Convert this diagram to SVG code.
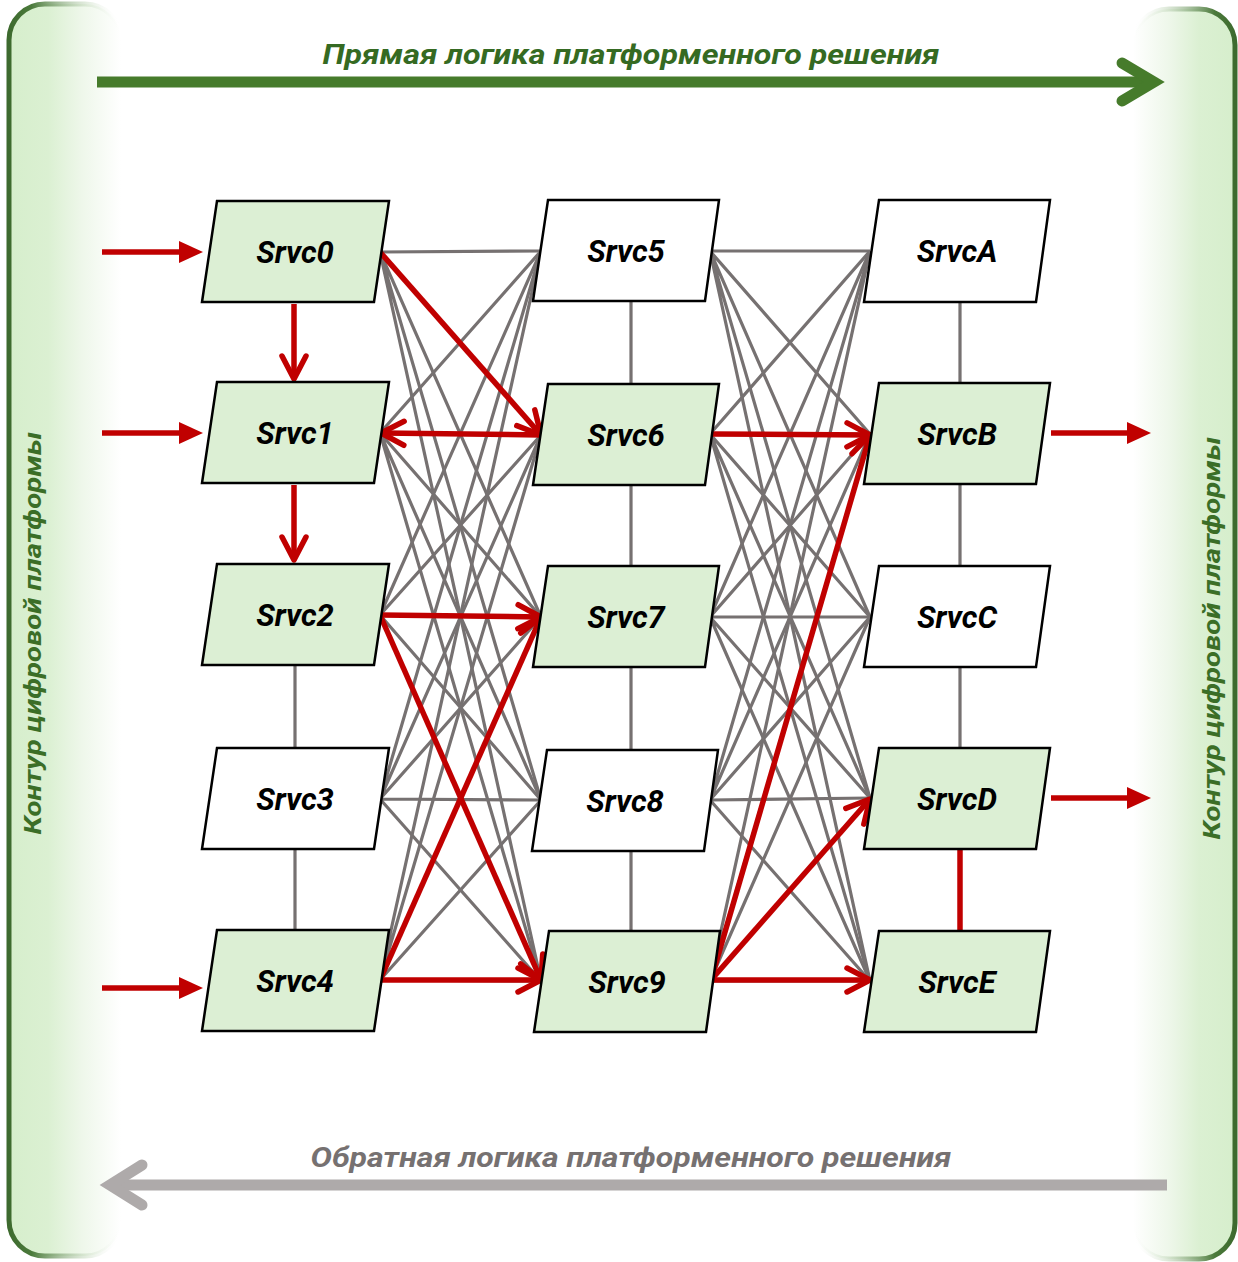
<svg xmlns="http://www.w3.org/2000/svg" width="1238" height="1262" viewBox="0 0 1238 1262">
<defs>
<style>
.lbl{font-family:Roboto,"Liberation Sans",sans-serif;font-weight:bold;font-style:italic;font-size:31px;text-anchor:middle;fill:#000}
.box{stroke:#000;stroke-width:2.5}
.gf{fill:#dcefd4}
.wf{fill:#fff}
.gray{stroke:#767171;stroke-width:3.2;fill:none}
.red{stroke:#c00000;stroke-width:5.5;fill:none}
.ttl{font-family:Roboto,"Liberation Sans",sans-serif;font-weight:bold;font-style:italic}
</style>
<linearGradient id="fillL" x1="0" y1="0" x2="1" y2="0">
<stop offset="0" stop-color="#d6eecc"/><stop offset="0.35" stop-color="#dbf0d2"/><stop offset="0.65" stop-color="#eef7ea"/><stop offset="1" stop-color="#ffffff"/>
</linearGradient>
<linearGradient id="fillR" x1="1" y1="0" x2="0" y2="0">
<stop offset="0" stop-color="#d6eecc"/><stop offset="0.35" stop-color="#dbf0d2"/><stop offset="0.65" stop-color="#eef7ea"/><stop offset="1" stop-color="#ffffff"/>
</linearGradient>
<linearGradient id="strokeL" x1="0" y1="0" x2="1" y2="0">
<stop offset="0" stop-color="#3d6a2e"/><stop offset="0.2" stop-color="#4b7a3b"/><stop offset="0.7" stop-color="#c9dcc2" stop-opacity="0.5"/><stop offset="1" stop-color="#ffffff" stop-opacity="0"/>
</linearGradient>
<linearGradient id="strokeR" x1="1" y1="0" x2="0" y2="0">
<stop offset="0" stop-color="#3d6a2e"/><stop offset="0.2" stop-color="#4b7a3b"/><stop offset="0.7" stop-color="#c9dcc2" stop-opacity="0.5"/><stop offset="1" stop-color="#ffffff" stop-opacity="0"/>
</linearGradient>
<marker id="chev" markerUnits="userSpaceOnUse" viewBox="-30 -20 40 40" markerWidth="40" markerHeight="40" refX="0" refY="0" orient="auto" overflow="visible">
<path d="M-23,-12 L0,0 L-23,12" stroke="#c00000" stroke-width="5.5" stroke-linecap="round" stroke-linejoin="round" fill="none"/>
</marker>
<marker id="tri" markerUnits="userSpaceOnUse" viewBox="-5 -15 35 30" markerWidth="35" markerHeight="30" refX="0" refY="0" orient="auto" overflow="visible">
<path d="M-1,-11 L23,0 L-1,11 Z" fill="#c00000"/>
</marker>
</defs>
<rect width="1238" height="1262" fill="#fff"/>

<g id="panel-left">
<rect x="9" y="4" width="112" height="1252" rx="36" fill="url(#fillL)" stroke="url(#strokeL)" stroke-width="5"/>
<text class="ttl" transform="translate(41,633) rotate(-90)" font-size="24" text-anchor="middle" fill="#3b6e27" textLength="403" lengthAdjust="spacingAndGlyphs">Контур цифровой платформы</text>
</g>
<g id="panel-right">
<rect x="1133" y="9" width="102" height="1250" rx="36" fill="url(#fillR)" stroke="url(#strokeR)" stroke-width="5"/>
<text class="ttl" transform="translate(1220,638) rotate(-90)" font-size="24" text-anchor="middle" fill="#3b6e27" textLength="403" lengthAdjust="spacingAndGlyphs">Контур цифровой платформы</text>
</g>

<g id="forward-logic">
<text class="ttl" x="631" y="64" font-size="28" text-anchor="middle" fill="#356a22" textLength="617" lengthAdjust="spacingAndGlyphs">Прямая логика платформенного решения</text>
<path d="M97 82 H1150" stroke="#467b2b" stroke-width="11" fill="none"/>
<path d="M1122 63 L1154 82 L1122 101" stroke="#467b2b" stroke-width="11" stroke-linecap="round" stroke-linejoin="miter" fill="none"/>
</g>
<g id="reverse-logic">
<text class="ttl" x="631" y="1167" font-size="28" text-anchor="middle" fill="#767171" textLength="641" lengthAdjust="spacingAndGlyphs">Обратная логика платформенного решения</text>
<path d="M1167 1185 H114" stroke="#aeaaaa" stroke-width="11" fill="none"/>
<path d="M142 1165 L110 1185 L142 1205" stroke="#aeaaaa" stroke-width="11" stroke-linecap="round" stroke-linejoin="miter" fill="none"/>
</g>

<g id="connectors">
<g class="gray">
<path d="M380 252L541 251M380 252L541 435M380 252L541 617M380 252L541 800M380 252L541 981"/>
<path d="M380 433L541 251M380 433L541 435M380 433L541 617M380 433L541 800M380 433L541 981"/>
<path d="M380 615L541 251M380 615L541 435M380 615L541 617M380 615L541 800M380 615L541 981"/>
<path d="M380 799L541 251M380 799L541 435M380 799L541 617M380 799L541 800M380 799L541 981"/>
<path d="M380 980L541 251M380 980L541 435M380 980L541 617M380 980L541 800M380 980L541 981"/>
<path d="M710 251L870 251M710 251L870 434M710 251L870 617M710 251L870 798M710 251L870 981"/>
<path d="M710 434L870 251M710 434L870 434M710 434L870 617M710 434L870 798M710 434L870 981"/>
<path d="M710 617L870 251M710 617L870 434M710 617L870 617M710 617L870 798M710 617L870 981"/>
<path d="M710 800L870 251M710 800L870 434M710 800L870 617M710 800L870 798M710 800L870 981"/>
<path d="M710 981L870 251M710 981L870 434M710 981L870 617M710 981L870 798M710 981L870 981"/>
<path d="M295 665V748M295 850V930"/>
<path d="M631 301V384M631 486V566M631 668V749M631 852V931"/>
<path d="M960 302V383M960 485V566M960 668V748"/>
</g>
<g class="red">
<path d="M102 252H180" marker-end="url(#tri)"/>
<path d="M102 433H180" marker-end="url(#tri)"/>
<path d="M102 988H180" marker-end="url(#tri)"/>
<path d="M1051 433H1128" marker-end="url(#tri)"/>
<path d="M1051 798H1128" marker-end="url(#tri)"/>
<path d="M294 304V379" marker-end="url(#chev)"/>
<path d="M294 485V560" marker-end="url(#chev)"/>
<path d="M380 252L541 435" marker-end="url(#chev)"/>
<path d="M541 435L381 433" marker-end="url(#chev)"/>
<path d="M380 615L541 617" marker-end="url(#chev)"/>
<path d="M380 615L541 980" marker-end="url(#chev)"/>
<path d="M380 980L541 617" marker-end="url(#chev)"/>
<path d="M380 980L541 980" marker-end="url(#chev)"/>
<path d="M710 434L870 435" marker-end="url(#chev)"/>
<path d="M711 980L870 435" marker-end="url(#chev)"/>
<path d="M711 980L870 799" marker-end="url(#chev)"/>
<path d="M711 980L870 980" marker-end="url(#chev)"/>
<path d="M960 849V931"/>
</g>
</g>

<g id="Srvc0"><polygon class="box gf" points="217,201 389,201 374,302 202,302"/><text class="lbl" x="295" y="263">Srvc0</text></g>
<g id="Srvc1"><polygon class="box gf" points="217,382 389,382 374,483 202,483"/><text class="lbl" x="295" y="444">Srvc1</text></g>
<g id="Srvc2"><polygon class="box gf" points="217,564 389,564 374,665 202,665"/><text class="lbl" x="295" y="626">Srvc2</text></g>
<g id="Srvc3"><polygon class="box wf" points="217,748 389,748 374,849 202,849"/><text class="lbl" x="295" y="810">Srvc3</text></g>
<g id="Srvc4"><polygon class="box gf" points="217,930 389,930 374,1031 202,1031"/><text class="lbl" x="295" y="992">Srvc4</text></g>

<g id="Srvc5"><polygon class="box wf" points="548,200 719,200 705,301 533,301"/><text class="lbl" x="626" y="262">Srvc5</text></g>
<g id="Srvc6"><polygon class="box gf" points="548,384 719,384 705,485 533,485"/><text class="lbl" x="626" y="446">Srvc6</text></g>
<g id="Srvc7"><polygon class="box gf" points="548,566 719,566 705,667 533,667"/><text class="lbl" x="626" y="628">Srvc7</text></g>
<g id="Srvc8"><polygon class="box wf" points="547,750 718,750 704,851 532,851"/><text class="lbl" x="625" y="812">Srvc8</text></g>
<g id="Srvc9"><polygon class="box gf" points="549,931 720,931 706,1032 534,1032"/><text class="lbl" x="627" y="993">Srvc9</text></g>

<g id="SrvcA"><polygon class="box wf" points="879,200 1050,200 1036,302 864,302"/><text class="lbl" x="957" y="262">SrvcA</text></g>
<g id="SrvcB"><polygon class="box gf" points="879,383 1050,383 1036,484 864,484"/><text class="lbl" x="957" y="445">SrvcB</text></g>
<g id="SrvcC"><polygon class="box wf" points="879,566 1050,566 1036,667 864,667"/><text class="lbl" x="957" y="628">SrvcC</text></g>
<g id="SrvcD"><polygon class="box gf" points="879,748 1050,748 1036,849 864,849"/><text class="lbl" x="957" y="810">SrvcD</text></g>
<g id="SrvcE"><polygon class="box gf" points="879,931 1050,931 1036,1032 864,1032"/><text class="lbl" x="957" y="993">SrvcE</text></g>
</svg>
